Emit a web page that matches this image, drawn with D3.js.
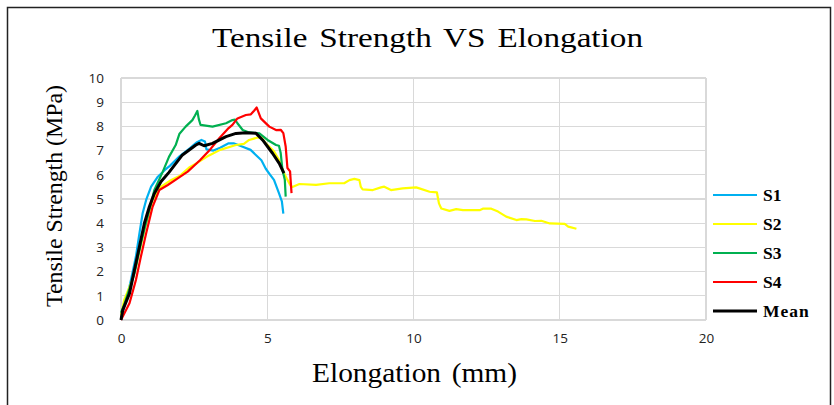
<!DOCTYPE html>
<html lang="en">

<head>
	<meta charset="utf-8">
	<title> tensile_strength_vs_elongation </title>
	<script src="https://d3js.org/d3.v7.min.js"></script>
	<style type="text/css">
		body { margin: 0; background: #fff; }

		.Axis path,
		.Axis line {
			display: none;
		}
		.Axis text {
			font-family: "Open Sans", sans-serif;
			font-size: 13.5px;
			fill: #222;
		}
		.grid line {
			stroke: #d9d9d9;
			stroke-width: 1.3;
			shape-rendering: crispEdges;
		}
	</style>
</head>

<body>
	<svg id="placeholder1"></svg>

	<script type="text/javascript">
		//============================================================
		//                          data
		//============================================================

		var seriesNames = ["S1", "S2", "S3", "S4", "Mean"]
		var seriesColors = ["#00b0f0", "#ffff00", "#00b050", "#ff0000", "#000000"]
		var xTicks = [0, 5, 10, 15, 20]
		var yTicks = [0, 1, 2, 3, 4, 5, 6, 7, 8, 9, 10]

		// [elongation (mm), tensile strength (MPa)]
		var s1 = [[0,0],[0.05,0.3],[0.2,0.9],[0.34,1.65],[0.51,2.62],[0.63,3.58],[0.74,4.41],[0.86,4.96],[1.03,5.51],[1.26,5.92],[1.5,6.2],[1.67,6.37],[2.0,6.76],[2.36,7.1],[2.6,7.35],[2.75,7.44],[2.87,7.38],[2.92,7.05],[3.16,7.0],[3.39,7.12],[3.68,7.3],[3.85,7.3],[4.16,7.16],[4.43,7.03],[4.61,6.82],[4.8,6.6],[4.95,6.25],[5.1,6.0],[5.23,5.79],[5.4,5.24],[5.5,4.9],[5.55,4.4]]

		var s2 = [[0,0.2],[0.11,0.83],[0.4,1.7],[0.51,2.2],[0.8,3.72],[1.08,4.96],[1.37,5.51],[1.67,5.75],[2.0,5.95],[2.33,6.3],[2.59,6.48],[3.01,6.8],[3.39,7.03],[3.93,7.23],[4.2,7.28],[4.38,7.44],[4.67,7.54],[4.8,7.55],[4.95,7.3],[5.23,6.97],[5.4,6.62],[5.55,6.14],[5.69,5.79],[5.8,5.55],[5.86,5.5],[6.1,5.62],[6.67,5.58],[7.12,5.65],[7.63,5.65],[7.81,5.78],[7.98,5.83],[8.15,5.78],[8.2,5.5],[8.26,5.4],[8.61,5.37],[8.89,5.48],[9.0,5.51],[9.23,5.37],[9.63,5.44],[10.09,5.48],[10.2,5.44],[10.55,5.3],[10.8,5.27],[10.87,4.82],[10.95,4.61],[11.23,4.51],[11.46,4.58],[11.69,4.54],[12.26,4.54],[12.37,4.6],[12.66,4.6],[12.89,4.48],[13.17,4.27],[13.52,4.13],[13.69,4.17],[13.86,4.16],[14.15,4.09],[14.37,4.1],[14.66,3.99],[15.17,3.97],[15.29,3.86],[15.57,3.77]]

		var s3 = [[0,0.3],[0.1,0.6],[0.46,1.93],[0.68,3.17],[0.91,4.27],[1.14,5.37],[1.43,6.13],[1.64,6.74],[1.87,7.23],[2.0,7.7],[2.21,7.99],[2.44,8.26],[2.53,8.45],[2.61,8.64],[2.66,8.3],[2.72,8.06],[3.13,7.99],[3.59,8.13],[3.81,8.26],[3.9,8.28],[3.98,8.13],[4.16,7.85],[4.38,7.75],[4.73,7.71],[5.01,7.44],[5.3,7.23],[5.4,7.2],[5.46,6.9],[5.52,6.2],[5.6,5.8],[5.63,5.1]]

		var s4 = [[0,0],[0.06,0.14],[0.29,0.69],[0.51,1.65],[0.68,2.62],[0.86,3.58],[1.08,4.68],[1.31,5.37],[1.6,5.58],[1.94,5.85],[2.28,6.13],[2.7,6.6],[3.05,7.05],[3.36,7.51],[3.68,7.93],[3.81,8.06],[3.98,8.33],[4.27,8.47],[4.44,8.5],[4.55,8.65],[4.64,8.78],[4.78,8.33],[5.07,7.99],[5.3,7.85],[5.46,7.86],[5.55,7.72],[5.63,7.17],[5.69,6.28],[5.78,6.14],[5.83,5.24]]

		var mean = [[0,0],[0.06,0.41],[0.29,1.1],[0.46,2.07],[0.63,3.03],[0.8,4.0],[0.97,4.68],[1.14,5.23],[1.37,5.72],[1.64,6.1],[2.1,6.82],[2.56,7.23],[2.67,7.3],[2.84,7.2],[3.13,7.3],[3.59,7.58],[3.93,7.71],[4.27,7.74],[4.61,7.72],[4.84,7.44],[5.18,6.89],[5.41,6.47],[5.57,6.07]]

		var seriesData = [s1, s2, s3, s4, mean]

		//============================================================
		//                          init
		//============================================================

		var wholeW = 834
		var wholeH = 405

		// plot area
		var plot = {left: 121, right: 706, top: 78, bottom: 320}

		var xScale = d3.scaleLinear().domain([0, 20]).range([plot.left, plot.right])
		var yScale = d3.scaleLinear().domain([0, 10]).range([plot.bottom, plot.top])

		var xAxis = d3.axisBottom(xScale).tickValues(xTicks).tickSize(0).tickPadding(13)
		var yAxis = d3.axisLeft(yScale).tickValues(yTicks).tickSize(0).tickPadding(17)

		var line = d3.line()
					.x(d=>xScale(d[0]))
					.y(d=>yScale(d[1]))

		var svg = d3.select("#placeholder1")
					.attr("width", wholeW)
					.attr("height", wholeH)

		//============================================================
		//                          draw
		//============================================================

		// outer frame
		svg.append("rect")
			.attr("x", 7.5).attr("y", 7.5)
			.attr("width", 823).attr("height", 410)
			.attr("fill", "none")
			.attr("stroke", "#222")
			.attr("stroke-width", 1.5)

		// grid
		var grid = svg.append("g").attr("class", "grid")
		grid.selectAll(".h").data(yTicks).join("line")
			.attr("x1", plot.left).attr("x2", plot.right)
			.attr("y1", d=>yScale(d)).attr("y2", d=>yScale(d))
		grid.selectAll(".v").data(xTicks).join("line")
			.attr("x1", d=>xScale(d)).attr("x2", d=>xScale(d))
			.attr("y1", plot.top).attr("y2", plot.bottom)

		// axes (labels only)
		svg.append("g")
			.attr("class", "x Axis")
			.attr("transform", "translate(0,"+plot.bottom+")")
			.call(xAxis)

		svg.append("g")
			.attr("class", "y Axis")
			.attr("transform", "translate("+plot.left+",0)")
			.call(yAxis)

		// series lines; mean drawn last and thicker
		seriesData.forEach((data, i)=>{
			svg.append("path")
				.attr("class", "line")
				.attr("d", line(data))
				.attr("fill", "none")
				.attr("stroke", seriesColors[i])
				.attr("stroke-width", i == 4 ? 3 : 2.2)
				.attr("stroke-linejoin", "round")
		})

		// legend
		var legend = svg.append("g")
		seriesNames.forEach((name, i)=>{
			var y = 195 + i*29
			legend.append("line")
				.attr("x1", 713).attr("x2", 757)
				.attr("y1", y).attr("y2", y)
				.attr("stroke", seriesColors[i])
				.attr("stroke-width", i == 4 ? 3 : 2.2)
			legend.append("text")
				.attr("x", 763).attr("y", y + 6)
				.style("font-family", "'Liberation Serif', serif")
				.style("font-weight", "bold")
				.style("font-size", "17.5px")
				.style("letter-spacing", name == "Mean" ? "1px" : "0px")
				.text(name)
		})

		// title (glyphs stretched a little wider, as in the source image)
		svg.append("text")
			.attr("x", 212).attr("y", 47)
			.style("font-family", "'Liberation Serif', serif")
			.style("font-size", "27.5px")
			.style("word-spacing", "3px")
			.attr("textLength", 431)
			.attr("lengthAdjust", "spacingAndGlyphs")
			.text("Tensile Strength VS Elongation")

		// axis titles
		svg.append("text")
			.attr("x", 312).attr("y", 382)
			.style("font-family", "'Liberation Serif', serif")
			.style("font-size", "27px")
			.style("word-spacing", "3px")
			.attr("textLength", 205)
			.attr("lengthAdjust", "spacingAndGlyphs")
			.text("Elongation (mm)")

		svg.append("text")
			.attr("transform", "translate(62,196) rotate(-90)")
			.attr("text-anchor", "middle")
			.style("font-family", "'Liberation Serif', serif")
			.style("font-size", "24px")
			.attr("textLength", 222)
			.attr("lengthAdjust", "spacingAndGlyphs")
			.text("Tensile Strength (MPa)")
	</script>

</body>

</html>
